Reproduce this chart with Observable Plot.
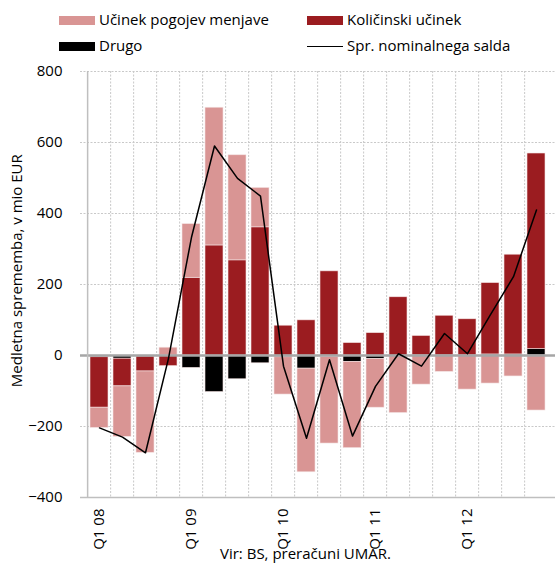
<!DOCTYPE html>
<html>
<head>
<meta charset="utf-8">
<script src="https://cdn.jsdelivr.net/npm/d3@7"></script>
<script src="https://cdn.jsdelivr.net/npm/@observablehq/plot@0.6"></script>
<style>
  html, body { margin: 0; padding: 0; background: #fff; }
  #wrap { position: relative; width: 555px; height: 563px; overflow: hidden; font-family: "Open Sans", sans-serif; color: #000; }
  #chart { position: absolute; left: 0; top: 0; }
  .leg { position: absolute; font-size: 15px; line-height: 1; white-space: nowrap; }
  .sw { position: absolute; width: 36px; height: 9px; }
  .ln { position: absolute; width: 36px; height: 0; border-top: 1.5px solid #000; }
  #src { position: absolute; left: 220px; top: 546px; font-size: 15px; line-height: 1; white-space: nowrap; }
</style>
</head>
<body>
<div id="wrap">
  <div id="chart"></div>
  <div class="sw" style="left:59px; top:16px; background:#d99594;"></div>
  <div class="leg" style="left:99px; top:12px;">Učinek pogojev menjave</div>
  <div class="sw" style="left:307px; top:16px; background:#9b1c20;"></div>
  <div class="leg" style="left:347px; top:12px;">Količinski učinek</div>
  <div class="sw" style="left:59px; top:42px; background:#000;"></div>
  <div class="leg" style="left:99px; top:38px;">Drugo</div>
  <div class="ln" style="left:307px; top:46px;"></div>
  <div class="leg" style="left:347px; top:38px;">Spr. nominalnega salda</div>
  <div id="src">Vir: BS, preračuni UMAR.</div>
</div>
<script>
const quarters = [
  "Q1 08","Q2 08","Q3 08","Q4 08",
  "Q1 09","Q2 09","Q3 09","Q4 09",
  "Q1 10","Q2 10","Q3 10","Q4 10",
  "Q1 11","Q2 11","Q3 11","Q4 11",
  "Q1 12","Q2 12","Q3 12","Q4 12"
];
const tickQuarters = ["Q1 08","Q1 09","Q1 10","Q1 11","Q1 12"];
const seriesNames = ["Drugo","Količinski učinek","Učinek pogojev menjave"];
const seriesColors = ["#000000","#9b1c20","#d99594"];

const drugo =     [-5, -9, -3, 0, -35, -103, -67, -22, -5, -37, -4, -18, -10, -2, 0, 0, 0, 3, 3, 18];
const kolicinski = [-142, -78, -42, -30, 219, 310, 268, 361, 84, 99, 237, 35, 63, 164, 55, 112, 102, 201, 281, 551];
const pogojev =   [-57, -142, -229, 22, 151, 388, 296, 111, -105, -292, -244, -243, -137, -160, -82, -46, -96, -79, -59, -155];
const saldo =     [-204, -230, -274, -8, 333, 590, 499, 449, -30, -233, -12, -227, -87, 5, -30, 62, 5, 115, 222, 410];
const yTicks = [-400, -200, 0, 200, 400, 600, 800];
const yLabel = "Medletna sprememba, v mio EUR";

const rows = [];
quarters.forEach((q, i) => {
  rows.push({q, series: seriesNames[0], value: drugo[i]});
  rows.push({q, series: seriesNames[1], value: kolicinski[i]});
  rows.push({q, series: seriesNames[2], value: pogojev[i]});
});
const lineData = quarters.map((q, i) => ({q, v: saldo[i]}));

const W = 555, H = 563, mL = 80, mR = 0, mT = 71, mB = 66;
const step = (W - mL - mR) / quarters.length;
const gridColor = "#c9c9c9";
const axisColor = "#bfbfbf";

const chart = Plot.plot({
  width: W, height: H,
  marginTop: mT, marginBottom: mB, marginLeft: mL, marginRight: mR,
  style: {fontFamily: "Open Sans, sans-serif", fontSize: "15px", color: "#000", background: "transparent"},
  x: {domain: quarters, paddingInner: 0.2, paddingOuter: 0.1, axis: null},
  y: {domain: [-400, 800], axis: null},
  color: {domain: seriesNames, range: seriesColors},
  marks: [
    Plot.ruleY(yTicks.filter(d => d !== 0 && d !== -400), {y: d => d, stroke: gridColor, strokeDasharray: "2,1.5", strokeWidth: 1}),
    Plot.ruleX(quarters.slice(1), {x: d => d, dx: -step / 2, stroke: gridColor, strokeDasharray: "2,1.5", strokeWidth: 1}),
    Plot.barY(rows, {x: "q", y: "value", fill: "series", stroke: "#f4e3e3", strokeWidth: 0.6}),
    Plot.ruleY([0], {stroke: "#a6a6a6", strokeWidth: 2.5}),
    Plot.ruleY([-400], {stroke: axisColor, strokeWidth: 1.5}),
    Plot.ruleX([quarters[0]], {x: d => d, dx: -step / 2, stroke: axisColor, strokeWidth: 1.5}),
    Plot.lineY(lineData, {x: "q", y: "v", stroke: "#000", strokeWidth: 1.5}),
    Plot.axisY({ticks: yTicks, tickSize: 0, tickPadding: 18, label: null}),
    Plot.text([yLabel], {text: d => d, y: () => 239, frameAnchor: "left", textAnchor: "middle", dx: -63, rotate: -90, fontSize: 15, fill: "#000"}),
    Plot.axisX({ticks: tickQuarters, tickSize: 0, tickRotate: -90, tickPadding: 11, label: null})
  ]
});
document.getElementById("chart").appendChild(chart);
</script>
</body>
</html>
